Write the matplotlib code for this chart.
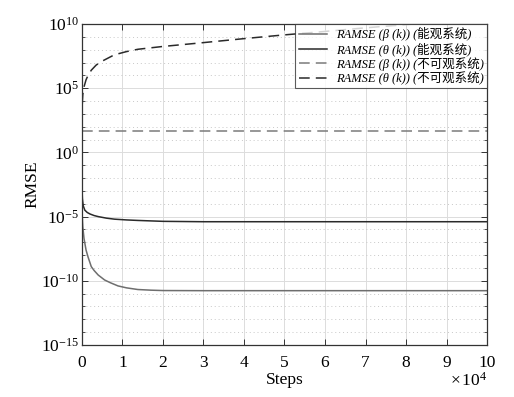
import numpy as np
import matplotlib
matplotlib.use("Agg")
import matplotlib.pyplot as plt
from matplotlib.ticker import FixedLocator, FuncFormatter, NullFormatter

plt.rcParams['font.family'] = ['Liberation Serif', 'Noto Sans CJK SC']
plt.rcParams['mathtext.fontset'] = 'custom'
plt.rcParams['mathtext.rm'] = 'Liberation Serif'
plt.rcParams['mathtext.it'] = 'Liberation Serif:italic'

# steps (x 1e4) and log10 of RMSE
x_beta_obs = [0, 0.005, 0.02, 0.05, 0.1, 0.15, 0.23, 0.3, 0.4, 0.56, 0.7, 0.89, 1.1, 1.38, 1.7, 2.0, 3.0, 10.0]
beta_obs = [-4.0, -4.9, -5.8, -6.7, -7.6, -8.15, -8.9, -9.2, -9.55, -9.94, -10.15, -10.4, -10.55, -10.68, -10.73, -10.76, -10.77, -10.77]

x_theta_obs = [0, 0.003, 0.01, 0.03, 0.07, 0.13, 0.2, 0.3, 0.4, 0.6, 0.8, 1.1, 1.38, 2.0, 3.0, 10.0]
theta_obs = [-1.9, -3.0, -3.6, -4.15, -4.5, -4.68, -4.8, -4.92, -5.0, -5.12, -5.2, -5.26, -5.3, -5.37, -5.4, -5.4]

x_beta_unobs = [0, 10.0]
beta_unobs = [1.66, 1.66]

x_theta_unobs = [0, 0.01, 0.02, 0.05, 0.1, 0.15, 0.23, 0.35, 0.47, 0.8, 1.1, 1.38, 2.0, 2.84, 4.07, 4.96, 6.0, 7.0, 8.0, 9.0, 10.0]
theta_unobs = [2.5, 4.0, 4.5, 5.1, 5.65, 6.0, 6.4, 6.8, 7.06, 7.6, 7.85, 8.03, 8.25, 8.5, 8.88, 9.14, 9.42, 9.7, 9.95, 10.2, 10.45]

labels = ["RAMSE (β (k)) (能观系统)",
          "RAMSE (θ (k)) (能观系统)",
          "RAMSE (β (k)) (不可观系统)",
          "RAMSE (θ (k)) (不可观系统)"]

fig = plt.figure(figsize=(5.14, 3.97), dpi=100)
ax = fig.add_axes([0.1595, 0.131, 0.788, 0.8086])

ax.plot(np.array(x_beta_obs) * 1e4, 10.0 ** np.array(beta_obs), color='#6e6e6e', lw=1.1, label=labels[0])
ax.plot(np.array(x_theta_obs) * 1e4, 10.0 ** np.array(theta_obs), color='#2a2a2a', lw=1.1, label=labels[1])
ax.plot(np.array(x_beta_unobs) * 1e4, 10.0 ** np.array(beta_unobs), color='#7a7a7a', lw=1.1, ls=(0, (7, 4)), label=labels[2])
ax.plot(np.array(x_theta_unobs) * 1e4, 10.0 ** np.array(theta_unobs), color='#2a2a2a', lw=1.1, ls=(0, (7, 4)), label=labels[3])

ax.set_yscale('log')
ax.set_xlim(0, 1e5)
ax.set_ylim(1e-15, 1e10)
ax.xaxis.set_major_locator(FixedLocator(np.arange(0, 11) * 1e4))
ax.xaxis.set_major_formatter(FuncFormatter(lambda v, p: "%d" % round(v / 1e4)))
ax.yaxis.set_major_locator(FixedLocator([10.0 ** e for e in range(-15, 11, 5)]))
ax.yaxis.set_major_formatter(FuncFormatter(lambda v, p: r"$10^{%d}$" % round(np.log10(v))))
ax.yaxis.set_minor_locator(FixedLocator([10.0 ** e for e in range(-15, 11) if e % 5 != 0]))
ax.yaxis.set_minor_formatter(NullFormatter())

ax.grid(True, which='major', color='#dcdcdc', lw=0.7, ls='-')
ax.grid(True, which='minor', axis='y', color='#c8c8c8', lw=0.7, ls=(0, (1, 3)))
ax.tick_params(which='both', direction='in', top=True, right=True, labelsize=12.5, color='#333333')
ax.tick_params(which='major', length=4, width=0.7)
ax.tick_params(which='minor', length=2.5, width=0.6)
ax.tick_params(axis='x', pad=7)
ax.tick_params(axis='y', pad=2)
for s in ax.spines.values():
    s.set_color('#333333')
    s.set_linewidth(0.9)

ax.set_xlabel("Steps", fontsize=12.5, labelpad=1)
ax.set_ylabel("RMSE", fontsize=12.5)
ax.yaxis.set_label_coords(-0.103, 0.5)
ax.text(1.0, -0.085, r"$\times\,10^{4}$", transform=ax.transAxes, ha='right', va='top', fontsize=12.5)

leg = ax.legend(loc='upper right', frameon=True, fancybox=False, borderpad=0.25,
                prop={'family': ['Liberation Serif', 'Noto Sans CJK SC'], 'style': 'italic', 'size': 9},
                labelspacing=0.08, handlelength=2.3, handletextpad=0.7, borderaxespad=0)
leg.get_frame().set_edgecolor('#333333')
leg.get_frame().set_linewidth(0.8)

fig.savefig("out.png", dpi=100)
